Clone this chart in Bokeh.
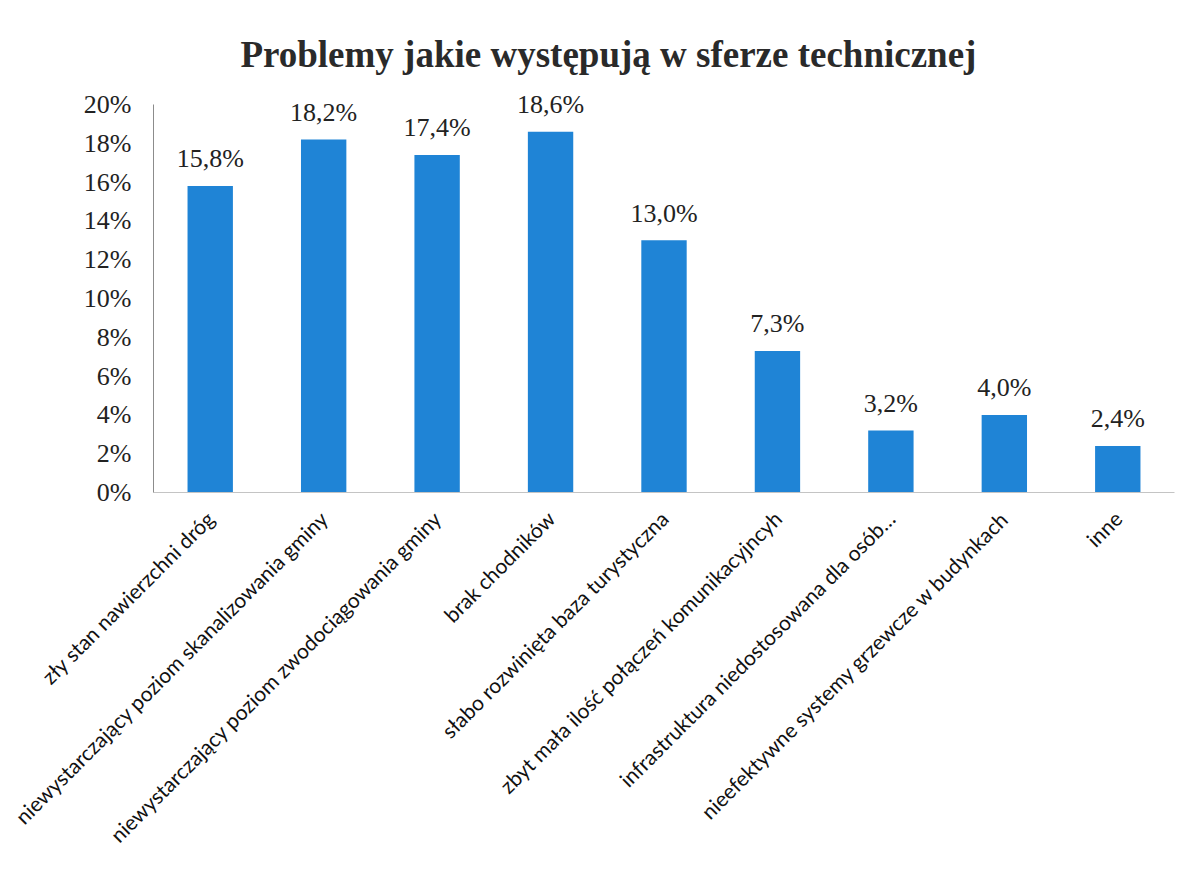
from math import pi
from bokeh.plotting import figure
from bokeh.models import ColumnDataSource, FactorRange, Range1d, FixedTicker, PrintfTickFormatter, Label
from bokeh.core.properties import value
from bokeh.embed import file_html
from bokeh.resources import INLINE

title_text = "Problemy jakie występują w sferze technicznej"
categories = [
    "zły stan nawierzchni dróg",
    "niewystarczający poziom skanalizowania gminy",
    "niewystarczający poziom zwodociągowania gminy",
    "brak chodników",
    "słabo rozwinięta baza turystyczna",
    "zbyt mała ilość połączeń komunikacyjncyh",
    "infrastruktura niedostosowana dla osób…",
    "nieefektywne systemy grzewcze w budynkach",
    "inne",
]
values = [15.8, 18.2, 17.4, 18.6, 13.0, 7.3, 3.2, 4.0, 2.4]
y_ticks = [0, 2, 4, 6, 8, 10, 12, 14, 16, 18, 20]

labels = [f"{v:.1f}%".replace(".", ",") for v in values]
src = ColumnDataSource(dict(cat=categories, val=values, lab=labels))

W, H = 1199, 884
p = figure(
    width=W, height=H,
    x_range=FactorRange(*categories, range_padding=0),
    y_range=Range1d(0, 24.95),
    output_backend="svg", toolbar_location=None,
    min_border_left=153, min_border_right=25,
    min_border_top=8, min_border_bottom=392,
)
p.outline_line_color = None
p.xgrid.grid_line_color = None
p.ygrid.grid_line_color = None
p.background_fill_color = "white"
p.border_fill_color = "white"

p.vbar(x="cat", top="val", width=0.4, source=src, fill_color="#1f84d6", line_color=None)
p.text(x="cat", y="val", text="lab", source=src, text_align="center", text_baseline="middle",
       y_offset=-27, text_font=value("Liberation Serif"), text_font_size="26px", text_color="#222222")

# y axis
ya = p.yaxis[0]
ya.ticker = FixedTicker(ticks=y_ticks)
ya.bounds = (0, 20)
ya.formatter = PrintfTickFormatter(format="%d%%")
ya.major_tick_line_color = None
ya.minor_tick_line_color = None
ya.axis_line_color = "#8c8c8c"
ya.major_label_text_font = "Liberation Serif"
ya.major_label_text_font_size = "26px"
ya.major_label_text_color = "#222222"
ya.major_label_standoff = 16

# x axis
xa = p.xaxis[0]
xa.major_tick_line_color = None
xa.minor_tick_line_color = None
xa.axis_line_color = "#c4c4c4"
xa.major_label_orientation = pi / 4
xa.major_label_text_font = "Lato"
xa.major_label_text_font_size = "21px"
xa.major_label_text_color = "#111111"
xa.major_label_standoff = 16

p.add_layout(Label(x=4.01, y=22.6, text=title_text,
                   text_align="center", text_baseline="middle",
                   text_font="Liberation Serif", text_font_style="bold",
                   text_font_size="37px", text_color="#2a2a2a"))

open("out.html", "w").write(file_html(p, INLINE))
